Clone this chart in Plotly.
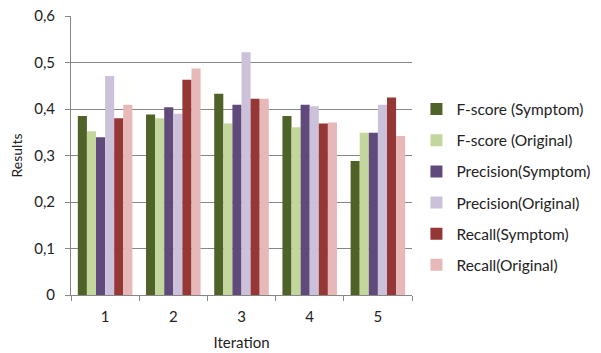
import plotly.graph_objects as go

iterations = ["1", "2", "3", "4", "5"]

fscore_symptom = [0.385, 0.388, 0.433, 0.385, 0.288]
fscore_original = [0.352, 0.380, 0.369, 0.361, 0.349]
precision_symptom = [0.339, 0.404, 0.409, 0.409, 0.349]
precision_original = [0.471, 0.390, 0.522, 0.406, 0.409]
recall_symptom = [0.380, 0.463, 0.422, 0.369, 0.425]
recall_original = [0.409, 0.487, 0.422, 0.371, 0.342]

series = [
    ("F-score (Symptom)", fscore_symptom, "#4F6228"),
    ("F-score (Original)", fscore_original, "#C3D69B"),
    ("Precision(Symptom)", precision_symptom, "#604A7B"),
    ("Precision(Original)", precision_original, "#CCC1DA"),
    ("Recall(Symptom)", recall_symptom, "#953735"),
    ("Recall(Original)", recall_original, "#E6B9B8"),
]

font_family = "Lato, 'Open Sans', sans-serif"
text_color = "#222222"

fig = go.Figure()
for i, (name, vals, color) in enumerate(series):
    fig.add_trace(go.Bar(
        x=iterations, y=vals, name=name,
        marker=dict(color=color, line=dict(width=0)),
        legendgroup=f"g{i}",
    ))

fig.update_layout(
    width=601, height=353,
    margin=dict(l=71, r=189, t=16, b=58, autoexpand=False),
    paper_bgcolor="white", plot_bgcolor="white",
    barmode="group", bargap=0.2, bargroupgap=0,
    separators=",.",
    font=dict(family=font_family, size=14, color=text_color),
    showlegend=True,
    legend=dict(
        x=1.013, y=0.387, xanchor="left", yanchor="middle",
        font=dict(family=font_family, size=15.5, color=text_color),
        tracegroupgap=8, itemwidth=30,
        bgcolor="rgba(0,0,0,0)",
    ),
    xaxis=dict(
        type="category", automargin=False,
        showline=True, linecolor="#868686", linewidth=1,
        ticks="outside", tickson="boundaries", ticklen=5, tickcolor="#868686",
        ticklabelstandoff=8,
        showgrid=False,
        title=dict(text="Iteration", font=dict(size=15), standoff=13),
        tickfont=dict(size=15),
    ),
    yaxis=dict(
        range=[0, 0.6], dtick=0.1, automargin=False,
        showline=True, linecolor="#868686", linewidth=1,
        ticks="outside", ticklen=5, tickcolor="#868686",
        ticklabelstandoff=7,
        showgrid=True, gridcolor="#868686", gridwidth=1,
        zeroline=False,
        title=dict(text="Results", font=dict(size=14), standoff=8),
        tickfont=dict(size=15),
    ),
)

fig.write_html("out.html")
